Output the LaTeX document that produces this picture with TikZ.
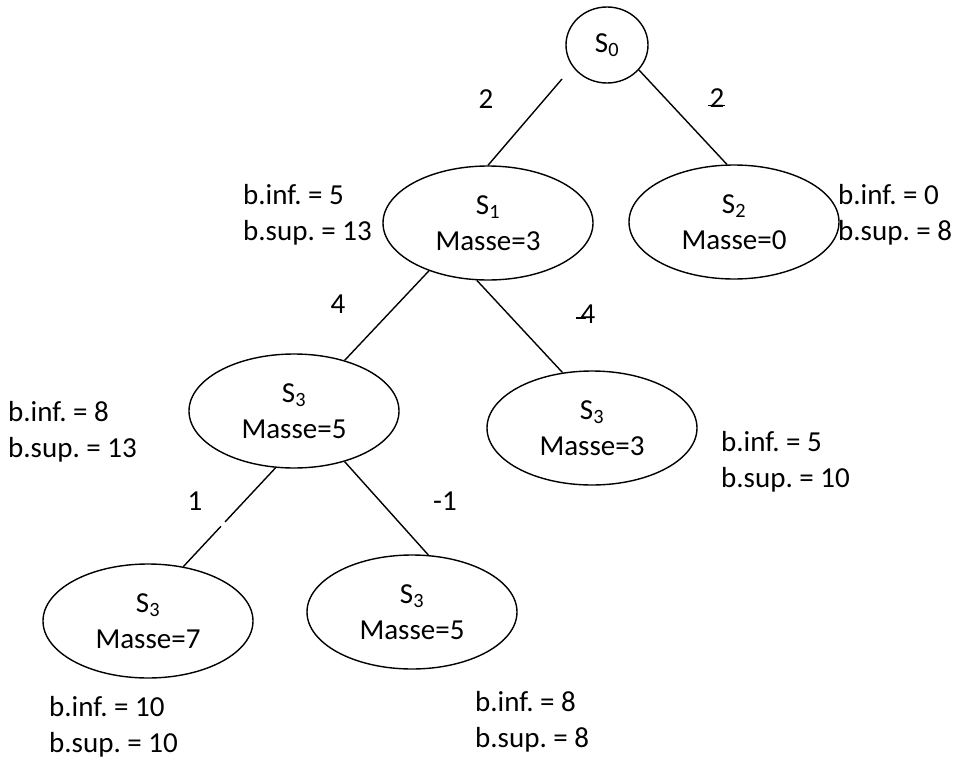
\documentclass[tikz,border=0pt]{standalone}
\usepackage{fontspec}
\setmainfont{Carlito}
\usetikzlibrary{shapes.geometric}
\frenchspacing
\begin{document}
\begin{tikzpicture}[x=1pt,y=-1pt,
  txt/.style={font=\fontsize{29}{36}\selectfont\frenchspacing, inner sep=0pt},
  statebox/.style={txt, draw, ellipse, line width=1.4pt, minimum width=210pt, minimum height=114pt, align=center},
  bnd/.style={txt, align=left, anchor=base west},
  wt/.style={txt, anchor=base},
  conn/.style={line width=1.4pt}]
\useasboundingbox (0,0) rectangle (959,760);
% nodes
\node[txt, draw, ellipse, line width=1.4pt, minimum width=82pt, minimum height=76pt] (s0) at (607,45) {S\textsubscript{0}};
\node[statebox] (s1) at (488,223) {S\textsubscript{1}\\Masse=3};
\node[statebox] (s2) at (734,222) {S\textsubscript{2}\\Masse=0};
\node[statebox] (s3a) at (294,411) {S\textsubscript{3}\\Masse=5};
\node[statebox] (s3b) at (592,428) {S\textsubscript{3}\\Masse=3};
\node[statebox] (s3c) at (148,621) {S\textsubscript{3}\\Masse=7};
\node[statebox] (s3d) at (412,612) {S\textsubscript{3}\\Masse=5};
% bounds (anchor = baseline of last line)
\node[bnd] (b1) at (243,240) {b.inf. = 5\\b.sup. = 13};
\node[bnd] (b2) at (838,240) {b.inf. = 0\\b.sup. = 8};
\node[bnd] (b3) at (8,457) {b.inf. = 8\\b.sup. = 13};
\node[bnd] (b4) at (721,487) {b.inf. = 5\\b.sup. = 10};
\node[bnd] (b5) at (49,752) {b.inf. = 10\\b.sup. = 10};
\node[bnd] (b6) at (475,747) {b.inf. = 8\\b.sup. = 8};
% edges
\coordinate (c0) at (562,79);
\draw[conn] (c0) -- (s1.90);
\draw[conn] (s0.-38) -- (s2.97);
\draw[conn] (s1.219) -- (s3a.45.5);
\draw[conn] (s1.259) -- (s3b.118);
\draw[conn, dash pattern={on 74pt off 6pt on 200pt}] (s3a.252) -- (s3c.57);
\draw[conn] (s3a.315) -- (s3d.74);
% edge weights
\node[wt] (w1) at (486,108) {2};
\node[wt] (w2) at (717,107) {2};
\draw[line width=1.3pt] ([xshift=-1.5pt,yshift=1.5pt]w2.base west) -- ([yshift=1.5pt]w2.base east);
\node[wt] (w3) at (338,313) {4};
\node[wt] (w4) at (588,323) {4};
\draw[line width=1.3pt] ([xshift=-4pt,yshift=5pt]w4.base west) -- ([xshift=6pt,yshift=5pt]w4.base west);
\node[wt] (w5) at (195,510) {1};
\node[wt] (w6) at (445,510) {-1};
\end{tikzpicture}
\end{document}
